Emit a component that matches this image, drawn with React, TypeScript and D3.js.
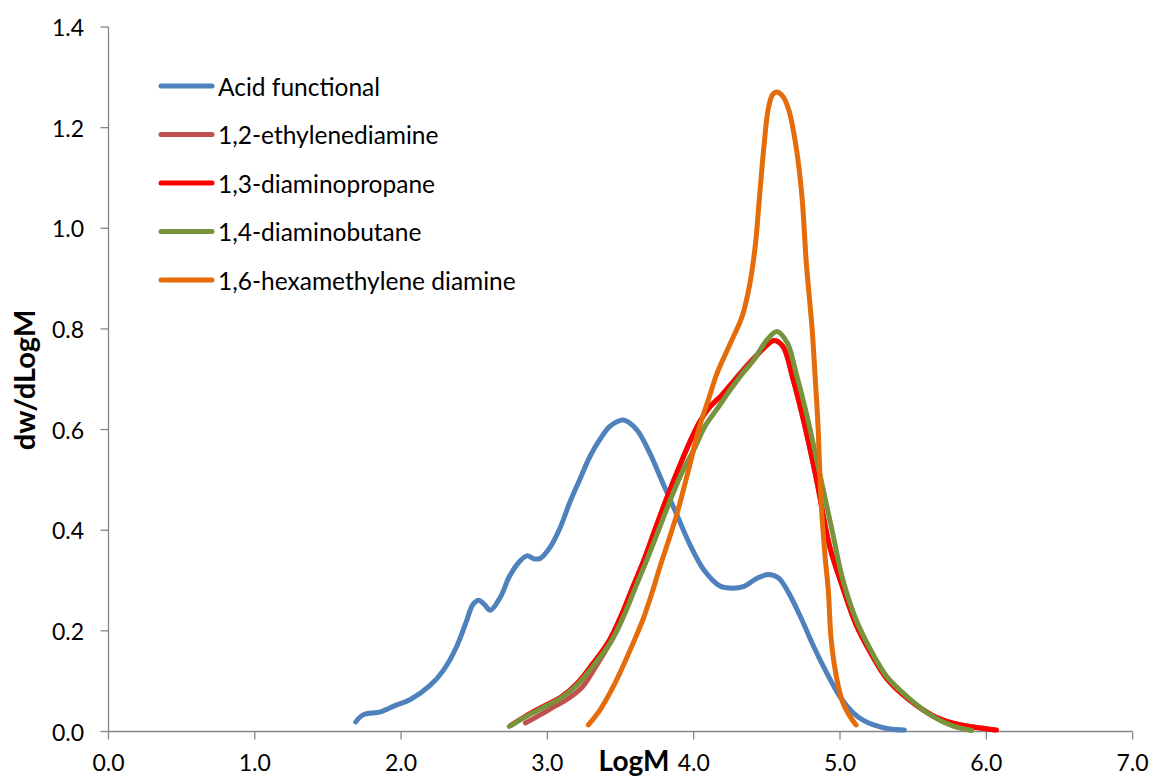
import React from "react";
import * as d3 from "d3";

// Molecular weight distributions: [LogM, dw/dLogM]
const acidFunctional: [number, number][] = [
  [1.69, 0.019], [1.74, 0.033], [1.86, 0.039], [1.97, 0.053], [2.06, 0.063],
  [2.2, 0.092], [2.29, 0.122], [2.38, 0.169], [2.45, 0.222], [2.49, 0.252],
  [2.53, 0.261], [2.57, 0.252], [2.61, 0.241], [2.68, 0.268], [2.74, 0.308],
  [2.81, 0.338], [2.86, 0.349], [2.91, 0.343], [2.95, 0.344], [3.02, 0.367],
  [3.09, 0.407], [3.15, 0.453], [3.22, 0.5], [3.29, 0.546], [3.36, 0.581],
  [3.43, 0.607], [3.52, 0.619], [3.61, 0.6], [3.7, 0.553], [3.79, 0.493],
  [3.88, 0.434], [3.97, 0.374], [4.07, 0.321], [4.18, 0.289], [4.25, 0.285],
  [4.34, 0.288], [4.43, 0.304], [4.51, 0.312], [4.58, 0.305], [4.65, 0.275],
  [4.73, 0.228], [4.82, 0.169], [4.91, 0.116], [5.0, 0.069], [5.09, 0.037],
  [5.16, 0.022], [5.23, 0.013], [5.34, 0.005], [5.44, 0.003],
];

const ethylenediamine: [number, number][] = [
  [2.85, 0.017], [2.95, 0.033], [3.05, 0.05], [3.13, 0.063], [3.24, 0.089],
  [3.32, 0.124], [3.42, 0.172], [3.5, 0.222], [3.58, 0.283], [3.66, 0.341],
  [3.74, 0.405], [3.82, 0.467], [3.9, 0.525], [3.97, 0.573], [4.04, 0.615],
  [4.11, 0.645], [4.19, 0.668], [4.27, 0.696], [4.34, 0.72], [4.41, 0.742],
  [4.48, 0.762], [4.55, 0.777], [4.61, 0.765], [4.68, 0.699], [4.75, 0.619],
  [4.84, 0.5], [4.93, 0.367], [5.02, 0.285], [5.11, 0.212], [5.21, 0.156],
  [5.32, 0.105], [5.46, 0.066], [5.64, 0.03], [5.77, 0.016], [5.91, 0.009],
  [6.06, 0.003],
];

const diaminopropane: [number, number][] = [
  [2.75, 0.012], [2.82, 0.025], [2.9, 0.039], [3.0, 0.054], [3.09, 0.068],
  [3.2, 0.095], [3.31, 0.135], [3.42, 0.18], [3.5, 0.228], [3.58, 0.285],
  [3.66, 0.341], [3.74, 0.405], [3.82, 0.467], [3.9, 0.525], [3.97, 0.573],
  [4.04, 0.615], [4.11, 0.645], [4.19, 0.668], [4.27, 0.694], [4.34, 0.716],
  [4.41, 0.74], [4.48, 0.762], [4.55, 0.777], [4.61, 0.765], [4.68, 0.699],
  [4.75, 0.619], [4.84, 0.5], [4.93, 0.367], [5.02, 0.285], [5.11, 0.212],
  [5.21, 0.156], [5.32, 0.105], [5.46, 0.066], [5.64, 0.031], [5.77, 0.017],
  [5.91, 0.009], [6.07, 0.003],
];

const diaminobutane: [number, number][] = [
  [2.74, 0.01], [2.82, 0.024], [2.9, 0.037], [3.0, 0.052], [3.09, 0.066],
  [3.2, 0.092], [3.31, 0.129], [3.43, 0.176], [3.52, 0.228], [3.6, 0.285],
  [3.68, 0.341], [3.76, 0.4], [3.84, 0.46], [3.92, 0.515], [4.0, 0.559],
  [4.08, 0.608], [4.16, 0.641], [4.25, 0.679], [4.33, 0.71], [4.41, 0.738],
  [4.5, 0.778], [4.57, 0.795], [4.64, 0.772], [4.7, 0.712], [4.77, 0.633],
  [4.86, 0.514], [4.95, 0.394], [5.02, 0.301], [5.11, 0.222], [5.21, 0.162],
  [5.32, 0.109], [5.46, 0.069], [5.64, 0.029], [5.77, 0.011], [5.9, 0.002],
];

const hexamethyleneDiamine: [number, number][] = [
  [3.28, 0.013], [3.36, 0.043], [3.45, 0.089], [3.54, 0.145], [3.6, 0.185],
  [3.66, 0.228], [3.72, 0.28], [3.77, 0.328], [3.88, 0.427], [3.97, 0.526],
  [4.04, 0.606], [4.1, 0.659], [4.16, 0.712], [4.25, 0.771], [4.33, 0.824],
  [4.38, 0.884], [4.42, 0.963], [4.45, 1.063], [4.48, 1.162], [4.51, 1.238],
  [4.54, 1.266], [4.57, 1.271], [4.61, 1.262], [4.65, 1.235], [4.7, 1.162],
  [4.74, 1.063], [4.77, 0.93], [4.81, 0.798], [4.83, 0.705], [4.85, 0.606],
  [4.87, 0.46], [4.9, 0.341], [4.92, 0.281], [4.94, 0.182], [4.98, 0.102],
  [5.02, 0.057], [5.07, 0.029], [5.11, 0.013],
];

const seriesNames = [
  "Acid functional",
  "1,2-ethylenediamine",
  "1,3-diaminopropane",
  "1,4-diaminobutane",
  "1,6-hexamethylene diamine",
];
const seriesColors = ["#4F81BD", "#C0504D", "#FF0000", "#77933C", "#E46C0A"];
const seriesData = [
  acidFunctional,
  ethylenediamine,
  diaminopropane,
  diaminobutane,
  hexamethyleneDiamine,
];

const xTicks = [0, 1, 2, 3, 4, 5, 6, 7];
const yTicks = [0, 0.2, 0.4, 0.6, 0.8, 1.0, 1.2, 1.4];

const W = 1151;
const H = 776;
const plot = { left: 108.5, right: 1132.6, top: 27, bottom: 731.5 };
const font = "Lato, 'Open Sans', sans-serif";
const axisColor = "#868686";

export default function App() {
  const x = d3.scaleLinear().domain([0, 7]).range([plot.left, plot.right]);
  const y = d3.scaleLinear().domain([0, 1.4]).range([plot.bottom, plot.top]);
  const line = d3
    .line<[number, number]>()
    .x((d) => x(d[0]))
    .y((d) => y(d[1]))
    .curve(d3.curveCatmullRom.alpha(0.5));

  return (
    <svg
      width={W}
      height={H}
      style={{ position: "absolute", left: 0, top: 0, background: "#fff" }}
      fontFamily={font}
    >
      {/* axes */}
      <line x1={plot.left} x2={plot.left} y1={plot.top} y2={plot.bottom} stroke={axisColor} strokeWidth={1.3} />
      <line x1={plot.left} x2={plot.right} y1={plot.bottom} y2={plot.bottom} stroke={axisColor} strokeWidth={1.3} />
      {yTicks.map((t) => (
        <g key={"y" + t}>
          <line x1={plot.left - 8} x2={plot.left} y1={y(t)} y2={y(t)} stroke={axisColor} strokeWidth={1.3} />
          <text x={84} y={y(t)} textAnchor="end" dominantBaseline="central" fontSize={23} fill="#000">
            {t.toFixed(1)}
          </text>
        </g>
      ))}
      {xTicks.map((t) => (
        <g key={"x" + t}>
          <line x1={x(t)} x2={x(t)} y1={plot.bottom} y2={plot.bottom + 8} stroke={axisColor} strokeWidth={1.3} />
          <text x={x(t)} y={771} textAnchor="middle" fontSize={23} fill="#000">
            {t.toFixed(1)}
          </text>
        </g>
      ))}

      {/* axis titles */}
      <text x={634} y={771} textAnchor="middle" fontSize={28} fontWeight="bold" fill="#000">
        LogM
      </text>
      <text
        transform={`translate(23,380) rotate(-90)`}
        textAnchor="middle"
        dominantBaseline="central"
        fontSize={29}
        fontWeight="bold"
        fill="#000"
      >
        dw/dLogM
      </text>

      {/* series */}
      {seriesData.map((data, i) => (
        <path
          key={seriesNames[i]}
          d={line(data) ?? ""}
          fill="none"
          stroke={seriesColors[i]}
          strokeWidth={5}
          strokeLinecap="round"
          strokeLinejoin="round"
        />
      ))}

      {/* legend */}
      {seriesNames.map((name, i) => {
        const ly = 86 + i * 48.5;
        return (
          <g key={"lg" + name}>
            <line x1={161} x2={212} y1={ly} y2={ly} stroke={seriesColors[i]} strokeWidth={5} strokeLinecap="round" />
            <text x={218} y={ly} dominantBaseline="central" fontSize={24.5} fill="#000">
              {name}
            </text>
          </g>
        );
      })}
    </svg>
  );
}
